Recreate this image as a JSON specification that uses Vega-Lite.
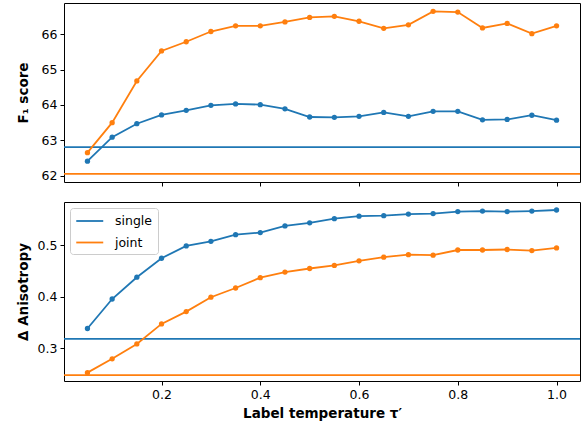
{
  "$schema": "https://vega.github.io/schema/vega-lite/v6.json",
  "padding": {"left": 15, "top": 2, "right": 6, "bottom": 4},
  "config": {
    "font": "DejaVu Sans",
    "view": {"stroke": "#000", "strokeWidth": 1},
    "axis": {"grid": false, "domain": false, "tickColor": "#000", "tickSize": 4, "labelFont": "DejaVu Sans", "labelFontSize": 12.5, "labelColor": "#000", "titleFont": "DejaVu Sans", "titleFontSize": 13.5, "titleFontWeight": "bold", "titleColor": "#000", "labelPadding": 3},
    "legend": {"labelFont": "DejaVu Sans", "labelFontSize": 12.5, "labelColor": "#000", "strokeColor": "#cccccc", "fillColor": "#ffffff", "cornerRadius": 3, "padding": 5, "symbolType": "M-1,0H3", "symbolSize": 182, "symbolStrokeWidth": 1.8, "labelOffset": 24, "rowPadding": 6.5},
    "concat": {"spacing": 14}
  },
  "datasets": {
    "main": [
      {"tau": 0.05, "series": "single", "f1": 62.41, "aniso": 0.338},
      {"tau": 0.10, "series": "single", "f1": 63.09, "aniso": 0.3955},
      {"tau": 0.15, "series": "single", "f1": 63.47, "aniso": 0.438},
      {"tau": 0.20, "series": "single", "f1": 63.72, "aniso": 0.475},
      {"tau": 0.25, "series": "single", "f1": 63.85, "aniso": 0.499},
      {"tau": 0.30, "series": "single", "f1": 63.99, "aniso": 0.508},
      {"tau": 0.35, "series": "single", "f1": 64.03, "aniso": 0.521},
      {"tau": 0.40, "series": "single", "f1": 64.01, "aniso": 0.525},
      {"tau": 0.45, "series": "single", "f1": 63.89, "aniso": 0.538},
      {"tau": 0.50, "series": "single", "f1": 63.66, "aniso": 0.544},
      {"tau": 0.55, "series": "single", "f1": 63.65, "aniso": 0.552},
      {"tau": 0.60, "series": "single", "f1": 63.68, "aniso": 0.557},
      {"tau": 0.65, "series": "single", "f1": 63.79, "aniso": 0.558},
      {"tau": 0.70, "series": "single", "f1": 63.68, "aniso": 0.561},
      {"tau": 0.75, "series": "single", "f1": 63.82, "aniso": 0.562},
      {"tau": 0.80, "series": "single", "f1": 63.82, "aniso": 0.566},
      {"tau": 0.85, "series": "single", "f1": 63.58, "aniso": 0.567},
      {"tau": 0.90, "series": "single", "f1": 63.59, "aniso": 0.566},
      {"tau": 0.95, "series": "single", "f1": 63.71, "aniso": 0.567},
      {"tau": 1.00, "series": "single", "f1": 63.57, "aniso": 0.569},
      {"tau": 0.05, "series": "joint", "f1": 62.65, "aniso": 0.252},
      {"tau": 0.10, "series": "joint", "f1": 63.50, "aniso": 0.279},
      {"tau": 0.15, "series": "joint", "f1": 64.68, "aniso": 0.308},
      {"tau": 0.20, "series": "joint", "f1": 65.53, "aniso": 0.347},
      {"tau": 0.25, "series": "joint", "f1": 65.79, "aniso": 0.371},
      {"tau": 0.30, "series": "joint", "f1": 66.08, "aniso": 0.399},
      {"tau": 0.35, "series": "joint", "f1": 66.24, "aniso": 0.417},
      {"tau": 0.40, "series": "joint", "f1": 66.24, "aniso": 0.437},
      {"tau": 0.45, "series": "joint", "f1": 66.35, "aniso": 0.448},
      {"tau": 0.50, "series": "joint", "f1": 66.48, "aniso": 0.455},
      {"tau": 0.55, "series": "joint", "f1": 66.51, "aniso": 0.461},
      {"tau": 0.60, "series": "joint", "f1": 66.37, "aniso": 0.470},
      {"tau": 0.65, "series": "joint", "f1": 66.17, "aniso": 0.477},
      {"tau": 0.70, "series": "joint", "f1": 66.27, "aniso": 0.482},
      {"tau": 0.75, "series": "joint", "f1": 66.65, "aniso": 0.481},
      {"tau": 0.80, "series": "joint", "f1": 66.63, "aniso": 0.491},
      {"tau": 0.85, "series": "joint", "f1": 66.18, "aniso": 0.491},
      {"tau": 0.90, "series": "joint", "f1": 66.31, "aniso": 0.492},
      {"tau": 0.95, "series": "joint", "f1": 66.02, "aniso": 0.490},
      {"tau": 1.00, "series": "joint", "f1": 66.24, "aniso": 0.495}
    ],
    "base": [
      {"series": "single", "f1": 62.81, "aniso": 0.318},
      {"series": "joint", "f1": 62.05, "aniso": 0.247}
    ]
  },
  "resolve": {"scale": {"color": "independent"}, "legend": {"color": "independent"}},
  "vconcat": [
    {
      "width": 516,
      "height": 179,
      "layer": [
        {
          "data": {"name": "base"},
          "mark": {"type": "rule", "strokeWidth": 1.8},
          "encoding": {
            "y": {"field": "f1", "type": "quantitative", "scale": {"domain": [61.82, 66.887]}},
            "color": {"field": "series", "type": "nominal", "scale": {"domain": ["single", "joint"], "range": ["#1f77b4", "#ff7f0e"]}, "legend": null}
          }
        },
        {
          "data": {"name": "main"},
          "mark": {"type": "line", "strokeWidth": 1.8},
          "encoding": {
            "x": {"field": "tau", "type": "quantitative", "scale": {"domain": [0.0025, 1.0475], "nice": false, "zero": false}, "axis": {"values": [0.2, 0.4, 0.6, 0.8, 1.0], "labels": false, "title": null}},
            "y": {"field": "f1", "type": "quantitative", "scale": {"domain": [61.82, 66.887], "nice": false, "zero": false}, "axis": {"values": [62, 63, 64, 65, 66], "title": "F₁ score", "titleX": -41, "titleBaseline": "middle"}},
            "color": {"field": "series", "type": "nominal", "scale": {"domain": ["single", "joint"], "range": ["#1f77b4", "#ff7f0e"]}, "legend": null}
          }
        },
        {
          "data": {"name": "main"},
          "mark": {"type": "point", "filled": true, "size": 28, "opacity": 1},
          "encoding": {
            "x": {"field": "tau", "type": "quantitative"},
            "y": {"field": "f1", "type": "quantitative"},
            "color": {"field": "series", "type": "nominal", "legend": null}
          }
        }
      ]
    },
    {
      "width": 516,
      "height": 179,
      "layer": [
        {
          "data": {"name": "base"},
          "mark": {"type": "rule", "strokeWidth": 1.8},
          "encoding": {
            "y": {"field": "aniso", "type": "quantitative", "scale": {"domain": [0.2357, 0.5846]}},
            "color": {"field": "series", "type": "nominal", "scale": {"domain": ["single", "joint"], "range": ["#1f77b4", "#ff7f0e"]}, "legend": {"orient": "top-left", "offset": 6, "title": null}}
          }
        },
        {
          "data": {"name": "main"},
          "mark": {"type": "line", "strokeWidth": 1.8},
          "encoding": {
            "x": {"field": "tau", "type": "quantitative", "scale": {"domain": [0.0025, 1.0475], "nice": false, "zero": false}, "axis": {"values": [0.2, 0.4, 0.6, 0.8, 1.0], "format": ".1f", "title": "Label temperature τ′", "titlePadding": 6}},
            "y": {"field": "aniso", "type": "quantitative", "scale": {"domain": [0.2357, 0.5846], "nice": false, "zero": false}, "axis": {"values": [0.3, 0.4, 0.5], "format": ".1f", "title": "Δ Anisotropy", "titleX": -41, "titleBaseline": "middle"}},
            "color": {"field": "series", "type": "nominal"}
          }
        },
        {
          "data": {"name": "main"},
          "mark": {"type": "point", "filled": true, "size": 28, "opacity": 1},
          "encoding": {
            "x": {"field": "tau", "type": "quantitative"},
            "y": {"field": "aniso", "type": "quantitative"},
            "color": {"field": "series", "type": "nominal"}
          }
        }
      ]
    }
  ]
}
